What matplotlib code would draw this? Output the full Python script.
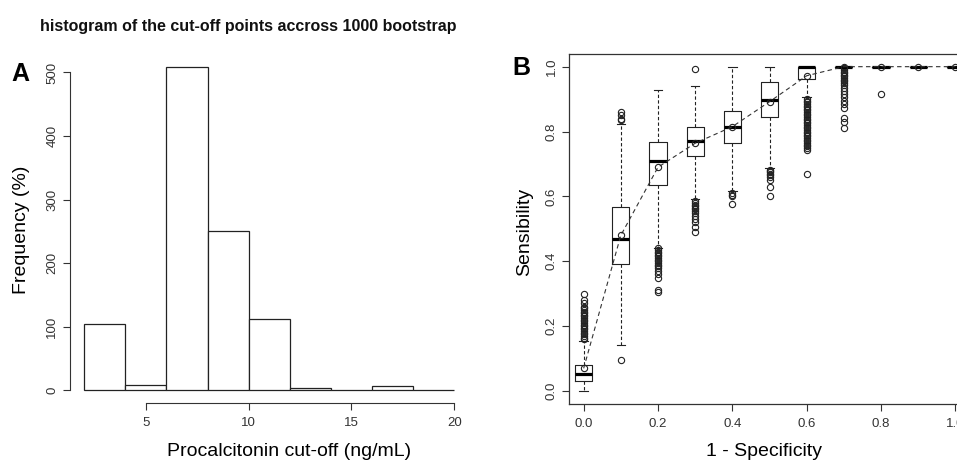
import matplotlib
matplotlib.use("Agg")
import matplotlib.pyplot as plt

plt.rcParams.update({
    "font.family": ["Liberation Sans", "DejaVu Sans"],
    "axes.edgecolor": "#333333",
    "xtick.color": "#333333",
    "ytick.color": "#333333",
    "xtick.labelcolor": "#333333",
    "ytick.labelcolor": "#333333",
})

# --- panel A: histogram of cut-off points ---
bin_edges = [2, 4, 6, 8, 10, 12, 14, 16, 18, 20]
bin_counts = [104, 9, 509, 250, 113, 3, 0, 7, 1]

# --- panel B: bootstrap sensibility per 1 - specificity ---
fpr = [0.0, 0.1, 0.2, 0.3, 0.4, 0.5, 0.6, 0.7, 0.8, 0.9, 1.0]
q1 = [0.032, 0.391, 0.635, 0.725, 0.765, 0.844, 0.962, 1.0, 1.0, 1.0, 1.0]
med = [0.052, 0.468, 0.708, 0.770, 0.815, 0.898, 1.0, 1.0, 1.0, 1.0, 1.0]
q3 = [0.081, 0.566, 0.769, 0.815, 0.863, 0.952, 1.0, 1.0, 1.0, 1.0, 1.0]
whislo = [0.0, 0.141, 0.44, 0.592, 0.618, 0.687, 0.907, 1.0, 1.0, 1.0, 1.0]
whishi = [0.155, 0.823, 0.929, 0.94, 1.0, 1.0, 1.0, 1.0, 1.0, 1.0, 1.0]
sens_point = [0.07, 0.48, 0.69, 0.764, 0.815, 0.892, 0.972, 1.0, 1.0, 1.0, 1.0]
outliers = [
    [0.16, 0.165, 0.17, 0.175, 0.18, 0.185, 0.19, 0.195, 0.20, 0.205, 0.21,
     0.215, 0.22, 0.225, 0.23, 0.235, 0.24, 0.245, 0.25, 0.255, 0.26, 0.27,
     0.28, 0.30],
    [0.096, 0.835, 0.84, 0.85, 0.861],
    [0.305, 0.31, 0.35, 0.36, 0.37, 0.38, 0.385, 0.39, 0.395, 0.40, 0.405,
     0.41, 0.415, 0.42, 0.425, 0.43, 0.435, 0.44],
    [0.49, 0.505, 0.52, 0.53, 0.54, 0.55, 0.555, 0.56, 0.565, 0.57, 0.575,
     0.58, 0.585, 0.992],
    [0.578, 0.60, 0.605, 0.61],
    [0.60, 0.63, 0.65, 0.66, 0.665, 0.67, 0.674, 0.678, 0.682],
    [0.669, 0.743, 0.75, 0.755, 0.76, 0.765, 0.77, 0.775, 0.78, 0.785, 0.79,
     0.795, 0.80, 0.805, 0.81, 0.815, 0.82, 0.825, 0.83, 0.835, 0.84, 0.845,
     0.85, 0.855, 0.86, 0.865, 0.87, 0.875, 0.88, 0.885, 0.89, 0.895, 0.90],
    [0.81, 0.83, 0.841, 0.872, 0.885, 0.895, 0.905, 0.915, 0.925, 0.935,
     0.944, 0.95, 0.955, 0.96, 0.965, 0.97, 0.975, 0.98, 0.985, 0.99, 0.995],
    [0.916],
    [],
    [],
]

W, H = 957, 461
fig = plt.figure(figsize=(W / 100, H / 100), dpi=100)


def px_axes(left, top, right, bottom):
    return fig.add_axes([left / W, 1 - bottom / H, (right - left) / W, (bottom - top) / H])


fig.text(40 / W, 1 - 27 / H, "histogram of the cut-off points accross 1000 bootstrap",
         fontsize=11.5, fontweight="bold", ha="left", va="center", color="#111")

# panel A
axA = px_axes(69.5, 53.8, 469, 403.3)
axA.bar(bin_edges[:-1], bin_counts, width=2, align="edge",
        facecolor="white", edgecolor="#222", linewidth=0.9)
axA.set_xlim(1.28, 20.72)
axA.set_ylim(-20.36, 529.36)
axA.spines[["top", "right"]].set_visible(False)
axA.spines["left"].set_bounds(0, 500)
axA.spines["bottom"].set_bounds(5, 20)
axA.set_xticks([5, 10, 15, 20])
axA.set_yticks([0, 100, 200, 300, 400, 500])
axA.tick_params(direction="out", length=5, width=0.8, labelsize=9.5, pad=5)
axA.tick_params(axis="y", labelrotation=90, pad=3)
for lab in axA.get_yticklabels():
    lab.set_va("center")
axA.set_xlabel("Procalcitonin cut-off (ng/mL)", fontsize=14)
axA.set_ylabel("Frequency (%)", fontsize=14)
axA.xaxis.label.set_va("center")
axA.yaxis.label.set_va("center")
axA.xaxis.set_label_coords(0.549, -0.139)
axA.yaxis.set_label_coords(-0.119, 0.496)
fig.text(20 / W, 1 - 74 / H, "A", fontsize=18, fontweight="bold", ha="center", va="center")

# panel B
axB = px_axes(568.8, 53.7, 970.2, 404)
stats = []
for i in range(len(fpr)):
    stats.append({"med": med[i], "q1": q1[i], "q3": q3[i],
                  "whislo": whislo[i], "whishi": whishi[i], "fliers": outliers[i]})
axB.bxp(stats, positions=fpr, widths=0.046, capwidths=0.023, manage_ticks=False,
        boxprops=dict(color="#222", linewidth=0.8),
        whiskerprops=dict(color="#222", linewidth=0.8, linestyle=(0, (3, 2))),
        capprops=dict(color="#222", linewidth=0.8),
        medianprops=dict(color="#000", linewidth=2.3, solid_capstyle="butt"),
        flierprops=dict(marker="o", markersize=4.5, markerfacecolor="none",
                        markeredgecolor="#222", markeredgewidth=0.8))
axB.plot(fpr, sens_point, color="#333", linewidth=0.8, linestyle=(0, (4, 3)),
         marker="o", markersize=4.5, markerfacecolor="none",
         markeredgecolor="#222", markeredgewidth=0.8, zorder=5)
axB.set_xlim(-0.04, 1.04)
axB.set_ylim(-0.04, 1.04)
axB.set_xticks([0.0, 0.2, 0.4, 0.6, 0.8, 1.0])
axB.set_xticklabels(["0.0", "0.2", "0.4", "0.6", "0.8", "1.0"])
axB.set_yticks([0.0, 0.2, 0.4, 0.6, 0.8, 1.0])
axB.set_yticklabels(["0.0", "0.2", "0.4", "0.6", "0.8", "1.0"])
axB.tick_params(direction="out", length=5, width=0.8, labelsize=9.5, pad=5)
axB.tick_params(axis="y", labelrotation=90, pad=3)
for lab in axB.get_yticklabels():
    lab.set_va("center")
for sp in axB.spines.values():
    sp.set_linewidth(0.9)
axB.set_xlabel("1 - Specificity", fontsize=14)
axB.set_ylabel("Sensibility", fontsize=14)
axB.xaxis.label.set_va("center")
axB.yaxis.label.set_va("center")
axB.xaxis.set_label_coords(0.486, -0.137)
axB.yaxis.set_label_coords(-0.110, 0.49)
fig.text(521 / W, 1 - 68 / H, "B", fontsize=18, fontweight="bold", ha="center", va="center")

fig.savefig("out.png", dpi=100)
